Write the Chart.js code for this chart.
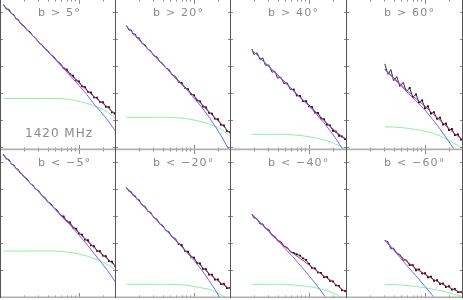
<!DOCTYPE html>
<html>
<head>
<meta charset="utf-8">
<script src="https://cdn.jsdelivr.net/npm/chart.js@4/dist/chart.umd.min.js"></script>
<style>
  html, body { margin: 0; padding: 0; background: #fff; }
  body { width: 463px; height: 300px; position: relative; overflow: hidden; }
  canvas { position: absolute; }
</style>
</head>
<body>
<script>
// multipoles: model curves and binned spectra (values are log10 C_l)
const ellModel = [11, 14, 19, 24, 31, 40, 50, 62, 77, 100, 125, 155, 190, 230, 290];
const ellData = [11, 12, 13, 14, 15, 16, 17, 18, 19, 20, 22, 24, 26, 28, 31, 34, 37, 40, 44, 48, 53,
  58, 64, 70, 77, 84, 92, 100, 109, 119, 130, 142, 155, 169, 184, 201, 219, 239, 261, 285];

const xTicks = [20, 30, 40, 50, 60, 70, 80, 90, 100, 200];
const xMajor = [100];
const yTicks = [-3, -2, -1, 0, 1, 2];

const panelLabels = ['b > 5°', 'b > 20°', 'b > 40°', 'b > 60°', 'b < −5°', 'b < −20°', 'b < −40°', 'b < −60°'];

// b > 5
const p1Data = [2.29, 2.12, 2.11, 1.94, 1.91, 1.75, 1.74, 1.62, 1.52, 1.51, 1.33, 1.28, 1.12, 1.06, 0.88, 0.80, 0.66, 0.59, 0.42, 0.36,
  0.19, 0.11, -0.07, -0.12, -0.29, -0.35, -0.52, -0.56, -0.74, -0.77, -0.95, -0.97, -1.15, -1.16, -1.32, -1.33, -1.50, -1.51, -1.70, -1.74];
const p1Signal = [2.27, 1.96, 1.55, 1.23, 0.90, 0.55, 0.25, -0.04, -0.34, -0.71, -1.04, -1.40, -1.69, -1.99, -2.40];
const p1Noise = [-1.19, -1.19, -1.19, -1.19, -1.19, -1.19, -1.19, -1.20, -1.23, -1.30, -1.37, -1.46, -1.56, -1.69, -1.93];
const p1Total = [2.27, 1.96, 1.55, 1.24, 0.90, 0.56, 0.27, -0.02, -0.29, -0.61, -0.88, -1.13, -1.32, -1.51, -1.81];

// b > 20
const p2Data = [1.51, 1.34, 1.35, 1.19, 1.20, 1.05, 1.07, 0.84, 0.80, 0.63, 0.59, 0.39, 0.35, 0.16, 0.11, -0.07, -0.11, -0.32, -0.37,
  -0.57, -0.62, -0.80, -0.85, -1.03, -1.07, -1.26, -1.30, -1.49, -1.52, -1.72, -1.75, -1.94, -1.96, -2.16, -2.19, -2.39, -2.44];
const p2Signal = [1.48, 1.07, 0.75, 0.42, 0.07, -0.23, -0.53, -0.80, -1.17, -1.51, -1.88, -2.27, -2.66, -3.21];
const p2Noise = [-1.89, -1.89, -1.89, -1.89, -1.89, -1.89, -1.91, -1.93, -1.99, -2.05, -2.14, -2.23, -2.36, -2.61];
const p2Total = [1.48, 1.07, 0.75, 0.42, 0.07, -0.22, -0.51, -0.77, -1.11, -1.40, -1.69, -1.95, -2.18, -2.51];

// b > 40
const p3Data = [0.64, 0.44, 0.50, 0.25, 0.31, 0.04, 0.05, -0.22, -0.18, -0.44, -0.40, -0.64, -0.61, -0.86, -0.86, -1.08,
  -1.10, -1.29, -1.29, -1.48, -1.50, -1.71, -1.73, -1.93, -1.96, -2.16, -2.19, -2.39, -2.42, -2.57, -2.60, -2.70];
const p3Signal = [0.60, 0.31, -0.01, -0.32, -0.60, -0.88, -1.16, -1.47, -1.79, -2.10, -2.43, -2.77, -3.25];
const p3Noise = [-2.52, -2.52, -2.52, -2.52, -2.52, -2.54, -2.56, -2.61, -2.66, -2.73, -2.80, -2.92, -3.06];
const p3Total = [0.60, 0.31, -0.01, -0.32, -0.60, -0.87, -1.14, -1.44, -1.73, -2.01, -2.26, -2.47, -2.68];

// b > 60
const p4Data = [0.09, -0.30, -0.12, -0.54, -0.38, -0.75, -0.59, -0.94, -0.80, -1.14, -1.04, -1.33, -1.26,
  -1.55, -1.48, -1.75, -1.70, -1.95, -1.90, -2.16, -2.12, -2.36, -2.32, -2.55, -2.52, -2.71];
const p4Signal = [-0.12, -0.45, -0.73, -1.01, -1.29, -1.62, -1.97, -2.32, -2.69, -3.04, -3.54];
const p4Noise = [-2.24, -2.25, -2.27, -2.30, -2.34, -2.40, -2.47, -2.58, -2.71, -2.84, -3.01];
const p4Total = [-0.10, -0.42, -0.69, -0.95, -1.20, -1.48, -1.75, -2.00, -2.24, -2.46, -2.69];

// b < -5
const p5Data = [2.28, 2.10, 2.08, 1.90, 1.88, 1.74, 1.72, 1.58, 1.56, 1.44, 1.37, 1.19, 1.14, 0.99, 0.92, 0.74, 0.68, 0.51, 0.45, 0.29,
  0.21, 0.03, -0.03, -0.20, -0.25, -0.44, -0.48, -0.66, -0.70, -0.88, -0.91, -1.10, -1.13, -1.30, -1.31, -1.48, -1.50, -1.68, -1.70, -1.86];
const p5Signal = [2.25, 1.93, 1.53, 1.21, 0.88, 0.53, 0.23, -0.07, -0.34, -0.72, -1.05, -1.40, -1.72, -2.03, -2.46];
const p5Noise = [-1.31, -1.31, -1.31, -1.31, -1.31, -1.31, -1.31, -1.33, -1.36, -1.42, -1.49, -1.59, -1.68, -1.81, -2.01];
const p5Total = [2.25, 1.93, 1.53, 1.21, 0.88, 0.53, 0.24, -0.04, -0.30, -0.64, -0.92, -1.18, -1.40, -1.60, -1.88];

// b < -20
const p6Data = [1.05, 0.90, 0.90, 0.74, 0.74, 0.60, 0.61, 0.39, 0.35, 0.16, 0.14, -0.07, -0.13, -0.32, -0.35, -0.55, -0.59, -0.80, -0.84,
  -1.05, -1.09, -1.30, -1.33, -1.52, -1.55, -1.75, -1.77, -1.97, -1.98, -2.18, -2.18, -2.37, -2.36, -2.53, -2.52, -2.68, -2.68];
const p6Signal = [1.03, 0.62, 0.30, -0.05, -0.40, -0.70, -0.99, -1.29, -1.66, -2.01, -2.40, -2.79, -3.20, -3.79];
const p6Noise = [-2.54, -2.54, -2.54, -2.54, -2.54, -2.54, -2.55, -2.57, -2.62, -2.67, -2.73, -2.83, -2.96, -3.14];
const p6Total = [1.03, 0.62, 0.30, -0.05, -0.40, -0.69, -0.98, -1.27, -1.60, -1.88, -2.14, -2.36, -2.54, -2.72];

// b < -40
const p7Data = [0.06, -0.08, -0.11, -0.31, -0.30, -0.48, -0.51, -0.74, -0.76, -0.94, -0.95, -1.14, -1.17, -1.34, -1.38, -1.43,
  -1.48, -1.58, -1.64, -1.79, -1.93, -1.95, -2.10, -2.12, -2.27, -2.27, -2.41, -2.43, -2.58, -2.60, -2.76, -2.79];
const p7Signal = [0.05, -0.25, -0.59, -0.92, -1.22, -1.51, -1.83, -2.22, -2.57, -2.94, -3.31, -3.72, -4.23];
const p7Noise = [-2.54, -2.54, -2.54, -2.54, -2.54, -2.56, -2.59, -2.62, -2.68, -2.75, -2.83, -2.94, -3.12];
const p7Total = [0.04, -0.25, -0.57, -0.88, -1.15, -1.38, -1.58, -1.82, -2.04, -2.24, -2.41, -2.60, -2.83];

// b < -60
const p8Data = [-0.92, -0.97, -1.23, -1.20, -1.42, -1.43, -1.65, -1.63, -1.83, -1.83, -2.02, -1.99, -2.14,
  -2.13, -2.28, -2.26, -2.41, -2.39, -2.53, -2.51, -2.64, -2.61, -2.74, -2.71, -2.83, -2.83];
const p8Signal = [-0.90, -1.27, -1.60, -1.92, -2.23, -2.62, -2.96, -3.33, -3.64, -4.01, -4.46];
const p8Noise = [-2.54, -2.55, -2.57, -2.59, -2.62, -2.67, -2.72, -2.77, -2.83, -2.90, -2.99];
const p8Total = [-0.90, -1.25, -1.52, -1.75, -1.96, -2.17, -2.34, -2.49, -2.62, -2.73, -2.86];

const panels = [
  [p1Data, p1Signal, p1Noise, p1Total], [p2Data, p2Signal, p2Noise, p2Total],
  [p3Data, p3Signal, p3Noise, p3Total], [p4Data, p4Signal, p4Noise, p4Total],
  [p5Data, p5Signal, p5Noise, p5Total], [p6Data, p6Signal, p6Noise, p6Total],
  [p7Data, p7Signal, p7Noise, p7Total], [p8Data, p8Signal, p8Noise, p8Total]
];

// layout of the 4x2 grid
const colLeft = [0, 115, 230, 346];
const colWidth = [116, 116, 117, 117];
const rowTop = [-1, 149];
const rowHeight = [151, 149];
const rowRange = [[-3.1, 2.493], [-3.048, 2.47]];
const pxPerDecade = 79;

// pair the tail of an l grid with a series that starts later
function pts(ells, vals) {
  const off = ells.length - vals.length;
  return vals.map((v, i) => ({ x: ells[off + i], y: v }));
}

const framePlugin = {
  id: 'frame',
  afterDatasetsDraw(chart, args, opts) {
    const { ctx, chartArea: a } = chart;
    const x = chart.scales.x, y = chart.scales.y;
    ctx.save();
    ctx.strokeStyle = '#8a8a8a';
    ctx.lineWidth = 1;
    ctx.beginPath();
    xTicks.forEach(v => {
      const px = Math.round(x.getPixelForValue(v)) + 0.5;
      const len = xMajor.includes(v) ? 5 : 2.5;
      ctx.moveTo(px, a.top); ctx.lineTo(px, a.top + len);
      ctx.moveTo(px, a.bottom); ctx.lineTo(px, a.bottom - len);
    });
    yTicks.forEach(v => {
      const py = Math.round(y.getPixelForValue(v)) + 0.5;
      ctx.moveTo(a.left, py); ctx.lineTo(a.left + 3, py);
      ctx.moveTo(a.right, py); ctx.lineTo(a.right - 3, py);
    });
    ctx.stroke();

    // horizontal edges light, vertical edges dark
    ctx.strokeStyle = '#b0b0b0';
    ctx.lineWidth = 1.5;
    ctx.beginPath();
    if (opts.row === 1) { ctx.moveTo(a.left, a.top + 0.5); ctx.lineTo(a.right, a.top + 0.5); }
    ctx.moveTo(a.left, a.bottom - 0.75); ctx.lineTo(a.right, a.bottom - 0.75);
    ctx.stroke();
    ctx.strokeStyle = '#555';
    ctx.lineWidth = 1;
    ctx.beginPath();
    ctx.moveTo(a.left + 0.5, a.top); ctx.lineTo(a.left + 0.5, a.bottom);
    ctx.moveTo(a.right - 0.5, a.top); ctx.lineTo(a.right - 0.5, a.bottom);
    ctx.stroke();

    ctx.fillStyle = '#8a8a8a';
    ctx.textBaseline = 'alphabetic';
    ctx.font = '11px "DejaVu Sans"';
    ctx.letterSpacing = '1.2px';
    ctx.fillText(opts.label, a.left + 38, a.top + 17);
    if (opts.freq) {
      ctx.font = '12px "DejaVu Sans"';
      ctx.letterSpacing = '1px';
      ctx.fillText(opts.freq, a.left + 25, a.top + 138);
    }
    ctx.restore();
  }
};

panels.forEach((series, i) => {
  const row = Math.floor(i / 4), col = i % 4;
  const canvas = document.createElement('canvas');
  canvas.width = colWidth[col];
  canvas.height = rowHeight[row];
  canvas.style.left = colLeft[col] + 'px';
  canvas.style.top = rowTop[row] + 'px';
  document.body.appendChild(canvas);

  const [data, signal, noise, total] = series;
  new Chart(canvas, {
    type: 'line',
    data: {
      datasets: [
        { data: pts(ellModel, signal), borderColor: '#6b6bff', borderWidth: 1, order: 0 },
        { data: pts(ellModel, total), borderColor: '#c8266a', borderWidth: 1, order: 1 },
        { data: pts(ellModel, noise), borderColor: '#8cf0a4', borderWidth: 1, order: 2 },
        {
          data: pts(ellData, data), borderColor: '#303030', borderWidth: 1, order: 3,
          pointStyle: 'rect', pointBackgroundColor: '#111', pointBorderWidth: 0,
          pointRadius: c => (c.raw && c.raw.x >= 60 ? 1.3 : 0)
        }
      ]
    },
    options: {
      responsive: false,
      animation: false,
      events: [],
      layout: { padding: 0, autoPadding: false },
      elements: { point: { radius: 0 }, line: { tension: 0 } },
      scales: {
        x: { type: 'logarithmic', display: false, min: 10, max: Math.pow(10, 1 + colWidth[col] / pxPerDecade) },
        y: { type: 'linear', display: false, min: rowRange[row][0], max: rowRange[row][1] }
      },
      plugins: {
        legend: { display: false },
        tooltip: { enabled: false },
        frame: { label: panelLabels[i], row: row, freq: i === 0 ? '1420 MHz' : null }
      }
    },
    plugins: [framePlugin]
  });
});
</script>
</body>
</html>
